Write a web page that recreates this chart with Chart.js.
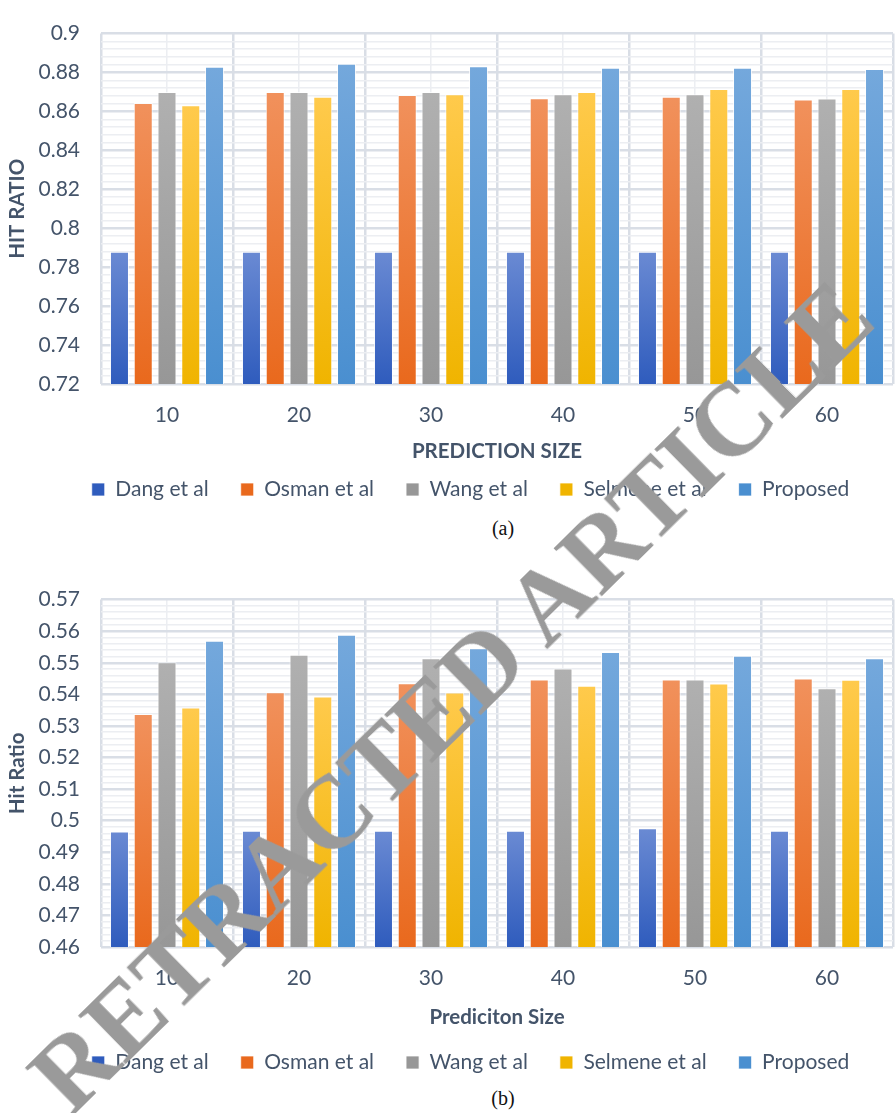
<!DOCTYPE html>
<html>
<head>
<meta charset="utf-8">
<title>Hit ratio by prediction size</title>
<script src="https://cdn.jsdelivr.net/npm/chart.js@4.4.1/dist/chart.umd.min.js"></script>
<style>
  html, body { margin: 0; padding: 0; background: #ffffff; }
  #page { position: relative; width: 895px; height: 1113px; overflow: hidden; background: #ffffff; }
  .panel { position: absolute; left: 0; }
  .caption { position: absolute; font-family: "Liberation Serif", "DejaVu Serif", serif; font-size: 20px; color: #111; transform: translate(-50%, -50%); white-space: nowrap; }
  #stamp { position: absolute; left: 451px; top: 696px; transform: translate(-50%, -50%) rotate(-44.5deg);
           font-family: "Liberation Serif", "DejaVu Serif", serif; font-weight: bold; font-size: 103px; line-height: 1;
           color: #9a9a9a; white-space: nowrap; pointer-events: none; }
</style>
</head>
<body>
<div id="page">
  <canvas id="chartA" class="panel" style="top:0px" width="895" height="510"></canvas>
  <div class="caption" style="left:503px; top:528px;">(a)</div>
  <canvas id="chartB" class="panel" style="top:566px" width="895" height="517"></canvas>
  <div class="caption" style="left:503px; top:1098px;">(b)</div>
  <div id="stamp">RETRACTED ARTICLE</div>
</div>
<script>
// ---- data ----
const predictionSizes = ['10', '20', '30', '40', '50', '60'];
const methods = ['Dang et al', 'Osman et al', 'Wang et al', 'Selmene et al', 'Proposed'];

// (a) hit ratio
const dangA     = [0.788, 0.788, 0.788, 0.788, 0.788, 0.788];
const osmanA    = [0.8643, 0.870, 0.8685, 0.8668, 0.8675, 0.8662];
const wangA     = [0.870, 0.870, 0.870, 0.8688, 0.8688, 0.8666];
const selmeneA  = [0.8632, 0.8675, 0.8688, 0.870, 0.8715, 0.8715];
const proposedA = [0.883, 0.8845, 0.8832, 0.8825, 0.8825, 0.8818];
const yTicksA   = [0.72, 0.74, 0.76, 0.78, 0.80, 0.82, 0.84, 0.86, 0.88, 0.90];
const yLabelsA  = ['0.72', '0.74', '0.76', '0.78', '0.8', '0.82', '0.84', '0.86', '0.88', '0.9'];

// (b) hit ratio
const dangB     = [0.4966, 0.4968, 0.4968, 0.4968, 0.4976, 0.4968];
const osmanB    = [0.5338, 0.5407, 0.5435, 0.5447, 0.5447, 0.545];
const wangB     = [0.5502, 0.5525, 0.5514, 0.5482, 0.5447, 0.5419];
const selmeneB  = [0.5358, 0.5393, 0.5406, 0.5427, 0.5434, 0.5446];
const proposedB = [0.557, 0.5589, 0.5546, 0.5534, 0.5522, 0.5514];
const yTicksB   = [0.46, 0.47, 0.48, 0.49, 0.50, 0.51, 0.52, 0.53, 0.54, 0.55, 0.56, 0.57];
const yLabelsB  = ['0.46', '0.47', '0.48', '0.49', '0.5', '0.51', '0.52', '0.53', '0.54', '0.55', '0.56', '0.57'];

// ---- styling ----
const TEXT = '#44546a';
const FONT = 'Lato, "Liberation Sans", sans-serif';
const GRID_MAJOR = '#d9dee6';
const GRID_MINOR = '#eceef2';
const palette = [
  { top: '#6a8ad3', bottom: '#2f5cbd', key: '#3563c1' },
  { top: '#f1915c', bottom: '#e9691d', key: '#eb6f22' },
  { top: '#b0b0b0', bottom: '#979797', key: '#9c9c9c' },
  { top: '#ffca4c', bottom: '#f0b400', key: '#f5bb00' },
  { top: '#74a8dc', bottom: '#4a8fd0', key: '#5596d4' }
];

Chart.defaults.font.family = FONT;
Chart.defaults.color = TEXT;

// bar fill: vertical gradient from the bar top down to the axis
function barFill(p) {
  return function (ctx) {
    if (ctx.type !== 'data') return p.key;
    const chart = ctx.chart;
    const y = chart.scales.y;
    if (!y || y.bottom === undefined) return p.key;
    const top = y.getPixelForValue(ctx.raw);
    if (!isFinite(top)) return p.key;
    const g = chart.ctx.createLinearGradient(0, top, 0, y.bottom);
    g.addColorStop(0, p.top);
    g.addColorStop(1, p.bottom);
    return g;
  };
}

function makeDatasets(series) {
  return series.map((values, i) => ({
    label: methods[i],
    data: values,
    backgroundColor: barFill(palette[i]),
    borderColor: 'rgba(255,255,255,0.75)',
    borderWidth: (ctx) => ctx.type === 'data' ? 1 : 0,
    borderSkipped: 'bottom',
    categoryPercentage: 0.9,
    barPercentage: 0.8
  }));
}

// major ticks with four minor subdivisions between them
function withMinor(majors) {
  return function (scale) {
    const out = [];
    majors.forEach((v, i) => {
      out.push({ value: v, isMajor: true });
      if (i < majors.length - 1) {
        for (let k = 1; k < 5; k++) out.push({ value: v + (majors[i + 1] - v) * k / 5, isMajor: false });
      }
    });
    scale.ticks = out;
  };
}

// the legend row sits a little right of the page centre
const legendOffset = {
  id: 'legendOffset',
  afterLayout(chart) {
    if (chart.legend) { chart.legend.left += 24; chart.legend.right += 24; }
  }
};

function buildChart(id, series, majors, labels, yTitle, xTitle, xAxisHeight, xTitleShift) {
  return new Chart(document.getElementById(id), {
    type: 'bar',
    data: { labels: predictionSizes, datasets: makeDatasets(series) },
    plugins: [legendOffset],
    options: {
      responsive: false,
      animation: false,
      layout: { padding: { top: 15, left: 0, right: 2, bottom: 0 } },
      plugins: {
        tooltip: { enabled: false },
        legend: {
          position: 'bottom',
          labels: { boxWidth: 13, boxHeight: 13, padding: 32, color: TEXT, font: { size: 21, family: FONT } }
        }
      },
      scales: {
        x: {
          type: 'category',
          offset: true,
          grid: { offset: true, color: GRID_MAJOR, lineWidth: 2.5, drawTicks: false },
          border: { display: false },
          ticks: { padding: 19, color: TEXT, font: { size: 21 } },
          title: { display: true, text: xTitle, color: TEXT, font: { size: 20.5, weight: 'bold' }, padding: { top: 0, bottom: xTitleShift } },
          afterFit: (s) => { s.height = xAxisHeight; }
        },
        xMinor: {
          type: 'category',
          position: 'bottom',
          labels: predictionSizes,
          offset: true,
          grid: { offset: false, color: GRID_MINOR, lineWidth: 1.5, drawTicks: false },
          border: { display: false },
          ticks: { display: false },
          afterFit: (s) => { s.height = 0; }
        },
        y: {
          min: majors[0],
          max: majors[majors.length - 1],
          afterBuildTicks: withMinor(majors),
          grid: {
            drawTicks: false,
            color: (c) => (c.tick && c.tick.isMajor) ? GRID_MAJOR : GRID_MINOR,
            lineWidth: (c) => (c.tick && c.tick.isMajor) ? 2.5 : 1.5
          },
          border: { display: false },
          ticks: {
            autoSkip: false,
            padding: 21,
            color: TEXT,
            font: { size: 21 },
            callback: function (value, index, ticks) {
              if (!ticks[index].isMajor) return '';
              const j = majors.findIndex((m) => Math.abs(m - value) < 1e-9);
              return j >= 0 ? labels[j] : '';
            }
          },
          title: { display: true, text: yTitle, color: TEXT, font: { size: 20.5, weight: 'bold' }, padding: { top: 4.7, bottom: 0 } },
          afterFit: (s) => { s.width = 101; }
        }
      }
    }
  });
}

buildChart('chartA', [dangA, osmanA, wangA, selmeneA, proposedA], yTicksA, yLabelsA,
           'HIT RATIO', 'PREDICTION SIZE', 63, -16.8);
buildChart('chartB', [dangB, osmanB, wangB, selmeneB, proposedB], yTicksB, yLabelsB,
           'Hit Ratio', 'Prediciton Size', 73, -9.8);
</script>
</body>
</html>
